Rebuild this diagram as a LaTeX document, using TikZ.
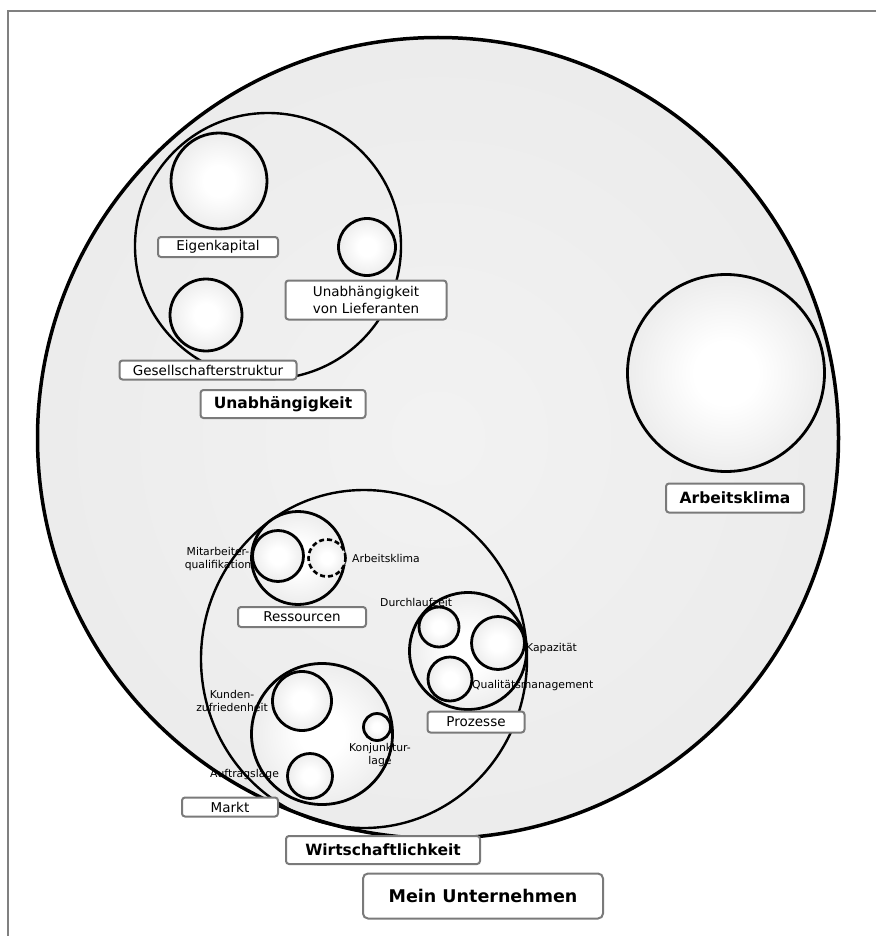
\documentclass[tikz,border=0pt]{standalone}
\usepackage{fontspec}
\setmainfont{DejaVu Sans}
\usetikzlibrary{shapes.geometric}
\pgfdeclareradialshading{ballshade}{\pgfpoint{0bp}{0bp}}{color(0bp)=(white); color(8bp)=(white); color(50bp)=(black!18)}
\pgfdeclareradialshading{bigshade}{\pgfpoint{0bp}{0bp}}{color(0bp)=(black!5); color(30bp)=(black!8); color(50bp)=(black!11)}
\tikzset{
  bigbub/.style={circle, draw=black, line width=3.5pt, shading=bigshade, inner sep=0pt},
  ball/.style={circle, draw=black, line width=2.8pt, shading=ballshade, inner sep=0pt, minimum size=#1},
  ring/.style={circle, draw=black, line width=2.4pt, inner sep=0pt, minimum size=#1},
  dball/.style={circle, draw=black, line width=2.6pt, dash pattern=on 5pt off 3pt, shading=ballshade, inner sep=0pt, minimum size=#1},
  lab/.style={draw=black!52, line width=2pt, rounded corners=3pt, fill=white, inner sep=0pt, font=\fontsize{13.5}{16}\selectfont, align=center},
  blab/.style={lab, font=\bfseries\fontsize{15.5}{18}\selectfont},
  small/.style={font=\fontsize{10.8}{13}\selectfont, align=center, inner sep=0pt},
}
\begin{document}
\begin{tikzpicture}[x=1pt,y=-1pt]
\useasboundingbox (0,0) rectangle (876,936);
\fill[white] (0,0) rectangle (876,936);
\coordinate (fa) at (876,11);
\coordinate (fb) at (8,11);
\coordinate (fc) at (8,936);
\draw[black!50, line width=1.4pt] (fa) -- (fb) -- (fc);

% outer company bubble
\node[bigbub, minimum size=801pt] (firm) at (438,438) {};

% Unabhaengigkeit group
\node[ring=266pt] (unab) at (268,246) {};
\node[ball=96pt] (eigen) at (219,181) {};
\node[ball=57pt] (lief) at (367,247) {};
\node[ball=72pt] (gesell) at (206,315) {};

% Arbeitsklima
\node[ball=197pt] (klima) at (726,373) {};

% Wirtschaftlichkeit group
\node[ellipse, draw=black, line width=2.4pt, inner sep=0pt, minimum width=326pt, minimum height=338pt] (wirt) at (364,659) {};
\node[ball=93pt] (ress) at (298,558) {};
\node[ball=51pt] (mq) at (278,556) {};
\node[dball=37pt] (ak) at (327,558) {};
\node[ball=117pt] (proz) at (468,651) {};
\node[ball=40pt] (dz) at (439,627) {};
\node[ball=53pt] (kap) at (498,643) {};
\node[ball=44pt] (qm) at (450,679) {};
\node[ball=141pt] (markt) at (322,734) {};
\node[ball=59pt] (kz) at (302,701) {};
\node[ball=27pt] (kl) at (377,727) {};
\node[ball=45pt] (al) at (310,776) {};

% small texts
\node[small] (tmq) at (218,559) {Mitarbeiter-\\qualifikation};
\node[small, anchor=west] (tak) at (352,558) {Arbeitsklima};
\node[small, anchor=west] (tdz) at (380,602) {Durchlaufzeit};
\node[small, anchor=west] (tkp) at (526,649) {Kapazität};
\node[small, anchor=west] (tqm) at (472,686) {Qualitätsmanagement};
\node[small] (tkz) at (232,701) {Kunden-\\zufriedenheit};
\node[small] (tkl) at (380,755) {Konjunktur-\\lage};
\node[small, anchor=west] (tal) at (210,775) {Auftragslage};

% labels
\node[lab, minimum width=120pt, minimum height=20pt] (leigen) at (218,247) {Eigenkapital};
\node[lab, minimum width=161pt, minimum height=39pt, font=\fontsize{13.5}{17}\selectfont] (llief) at (366,300) {Unabhängigkeit\\von Lieferanten};
\node[lab, minimum width=177pt, minimum height=19pt] (lgesell) at (208,370) {Gesellschafterstruktur};
\node[blab, minimum width=165pt, minimum height=28pt] (lunab) at (283,404) {Unabhängigkeit};
\node[blab, minimum width=138pt, minimum height=29pt] (lklima) at (735,498) {Arbeitsklima};
\node[lab, minimum width=128pt, minimum height=20pt] (lress) at (302,617) {Ressourcen};
\node[lab, minimum width=97pt, minimum height=21pt] (lproz) at (476,722) {Prozesse};
\node[lab, minimum width=96pt, minimum height=19pt] (lmarkt) at (230,807) {Markt};
\node[blab, minimum width=194pt, minimum height=28pt] (lwirt) at (383,850) {Wirtschaftlichkeit};
\node[blab, minimum width=240pt, minimum height=45pt, font=\bfseries\fontsize{17.5}{20}\selectfont, rounded corners=5pt] (lfirm) at (483,896) {Mein Unternehmen};
\end{tikzpicture}
\end{document}
